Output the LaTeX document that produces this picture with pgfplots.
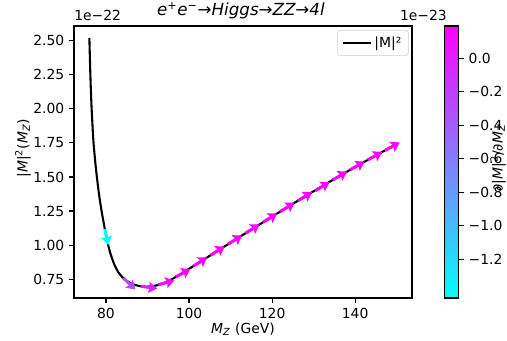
\documentclass[border=0pt]{standalone}
\usepackage{fontspec}
\setmainfont{DejaVu Sans}
\usepackage{pgfplots}
\usepackage{pgfplotstable}
\pgfplotsset{compat=1.18}
\usetikzlibrary{arrows.meta}

\pgfplotstableread{
M f
76.0 2.520
76.25 2.240
76.5 2.030
76.75 1.880
77.0 1.750
77.5 1.585
78.0 1.450
78.5 1.335
79.0 1.240
79.5 1.155
80.0 1.075
80.5 1.005
81.0 0.945
82.0 0.858
83.0 0.800
84.0 0.763
85.0 0.738
86.0 0.720
87.0 0.708
88.0 0.700
89.0 0.696
90.0 0.6955
91.0 0.698
92.0 0.703
94.0 0.722
96.0 0.752
98.0 0.788
100.0 0.826
102.5 0.874
105.0 0.922
107.5 0.970
110.0 1.018
115.0 1.114
120.0 1.209
125.0 1.303
130.0 1.395
135.0 1.485
140.0 1.573
145.0 1.658
150.0 1.741
}\curvetab

\pgfplotstableread{
M f u v d
79.7 1.1190 0.836 -0.1196 -1.43
84.2 0.7580 2.907 -0.0843 -0.29
88.4 0.6984 3.971 -0.0179 -0.045
92.6 0.7087 3.866 0.0329 0.085
96.8 0.7664 3.529 0.0582 0.165
101.0 0.8450 3.400 0.0649 0.191
105.2 0.9258 3.395 0.0652 0.192
109.4 1.0065 3.395 0.0652 0.192
113.6 1.0871 3.400 0.0649 0.191
117.8 1.1672 3.405 0.0647 0.190
122.0 1.2466 3.416 0.0642 0.188
126.2 1.3251 3.431 0.0635 0.185
130.4 1.3992 3.450 0.0624 0.181
134.6 1.4778 3.465 0.0617 0.178
138.8 1.5519 3.485 0.0606 0.174
143.0 1.6240 3.510 0.0593 0.169
147.2 1.6945 3.529 0.0582 0.165
}\arrowtab

\begin{document}
\begin{tikzpicture}
\begin{axis}[
  name=main,
  scale only axis, width=243.4pt, height=195.8pt,
  xmin=72.3, xmax=153.7, ymin=0.612, ymax=2.607,
  xtick={80,100,120,140}, xticklabels={80,100,120,140},
  ytick={0.75,1.00,1.25,1.50,1.75,2.00,2.25,2.50},
  yticklabels={0.75,1.00,1.25,1.50,1.75,2.00,2.25,2.50},
  xtick pos=bottom, ytick pos=left,
  tick align=outside, major tick length=3.5pt,
  every tick/.style={black, line width=0.8pt},
  axis line style={line width=0.8pt},
  tick label style={font=\fontsize{10}{12}\selectfont},
  label style={font=\fontsize{10}{12}\selectfont},
  xlabel={\textit{M}\textsubscript{\textit{Z}} (GeV)},
  xlabel style={at={(0.5,0)}, anchor=base, yshift=-25.5pt},
  colormap={cool}{rgb=(0,1,1) rgb=(1,0,1)},
  point meta min=-1.43, point meta max=0.192,
  colorbar,
  colorbar style={
    at={(parent axis.south east)}, anchor=south west, xshift=15.1pt,
    scale only axis, width=10.1pt,
    ytick={-1.2,-1.0,-0.8,-0.6,-0.4,-0.2,0.0},
    yticklabels={−1.2,−1.0,−0.8,−0.6,−0.4,−0.2,0.0},
    ytick pos=right, tick align=outside, major tick length=3.5pt,
    every tick/.style={black, line width=0.8pt},
    axis line style={line width=0.8pt},
    tick label style={font=\fontsize{10}{12}\selectfont},
  },
  legend style={at={(1,1)}, anchor=north east, xshift=-2.5pt, yshift=-2.9pt,
    draw=black!20, rounded corners=2pt, fill=white,
    font=\fontsize{10}{12}\selectfont, inner xsep=3pt, inner ysep=2.5pt},
  legend cell align=left,
  legend image code/.code={\draw[#1] (0pt,0pt) -- (20pt,0pt);},
]
\addplot[black, line width=1.5pt, smooth, tension=0.4] table[x=M, y=f] {\curvetab};
\addlegendentry{|M|²}
\addplot[forget plot, point meta=explicit, line width=2.2pt,
  quiver={u=\thisrow{u}, v=\thisrow{v},
    every arrow/.append style={draw=mapped color, fill=mapped color,
      -{Stealth[length=6.3pt, width=8pt, inset=1pt]}}}]
  table[x=M, y=f, meta=d] {\arrowtab};
\end{axis}
\node[anchor=base, inner sep=0pt, font=\fontsize{12}{14}\selectfont] at ([xshift=-1.5pt, yshift=7.4pt]main.north) {\textit{e\textsuperscript{+}e\textsuperscript{−}→Higgs→ZZ→4l}};
\node[anchor=base west, inner sep=0pt, font=\fontsize{10}{12}\selectfont] at ([yshift=4.3pt]main.north west) {1e−22};
\node[anchor=base east, inner sep=0pt, font=\fontsize{10}{12}\selectfont] at ([xshift=25.2pt, yshift=4.3pt]main.north east) {1e−23};
\node[rotate=90, anchor=center, inner sep=0pt, font=\fontsize{10}{12}\selectfont] at ([xshift=-36.7pt, yshift=10pt]main.west) {|\textit{M}|\textsuperscript{2}(\textit{M}\textsubscript{\textit{Z}})};
\node[rotate=90, anchor=base, inner sep=0pt, font=\fontsize{10}{12}\selectfont] at ([xshift=65.2pt, yshift=3pt]main.east) {∂|\textit{M}|\textsuperscript{2}/∂\textit{M}\textsubscript{\textit{Z}}};
\pgfresetboundingbox
\path ([xshift=-53.28pt, yshift=-30.96pt]main.south west) rectangle ++(365.04pt, 245.52pt);
\end{tikzpicture}
\end{document}
